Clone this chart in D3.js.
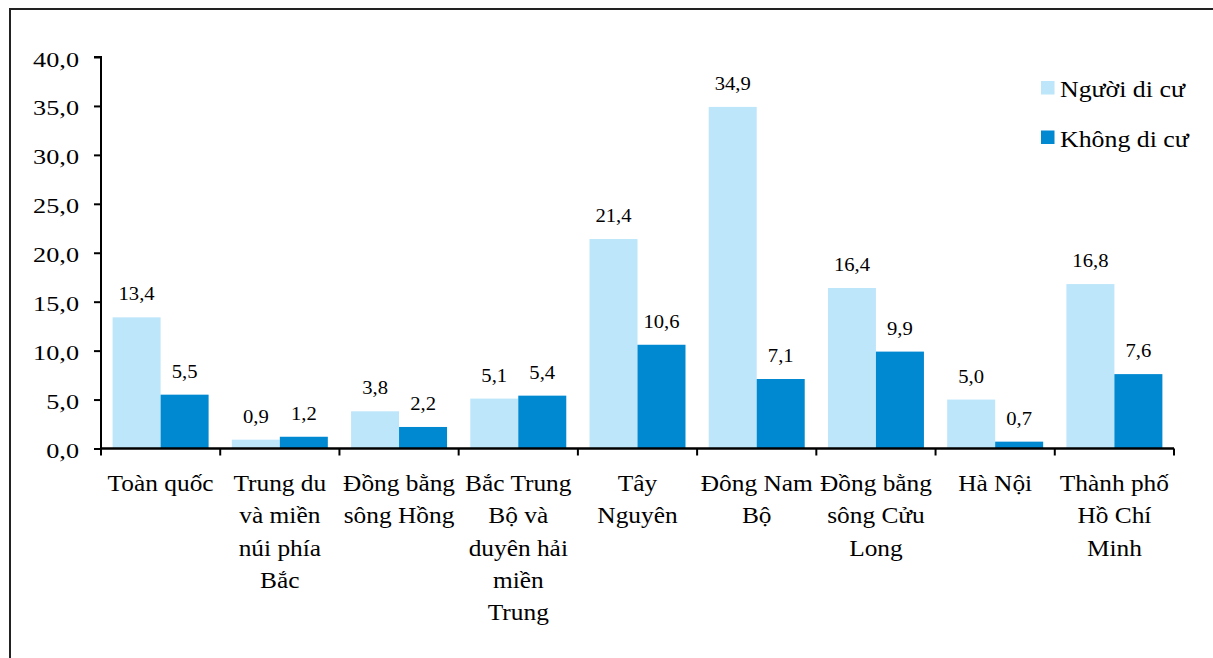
<!DOCTYPE html>
<html>
<head>
<meta charset="utf-8">
<script src="https://cdn.jsdelivr.net/npm/d3@7"></script>
<style>
  html, body { margin: 0; padding: 0; background: #fff; }
</style>
</head>
<body>
<svg id="chart" width="1213" height="658" font-family="Liberation Serif"></svg>
<script>
// Regions (label lines as printed under each group)
const categories = [
  ["Toàn quốc"],
  ["Trung du", "và miền", "núi phía", "Bắc"],
  ["Đồng bằng", "sông Hồng"],
  ["Bắc Trung", "Bộ và", "duyên hải", "miền", "Trung"],
  ["Tây", "Nguyên"],
  ["Đông Nam", "Bộ"],
  ["Đồng bằng", "sông Cửu", "Long"],
  ["Hà Nội"],
  ["Thành phố", "Hồ Chí", "Minh"]
];
const seriesNames = ["Người di cư", "Không di cư"];
const migrant = [13.4, 0.9, 3.8, 5.1, 21.4, 34.9, 16.4, 5.0, 16.8];
const nonMigrant = [5.5, 1.2, 2.2, 5.4, 10.6, 7.1, 9.9, 0.7, 7.6];
const yTicks = [0, 5, 10, 15, 20, 25, 30, 35, 40];
const colors = ["#bde6fa", "#0088d1"];

const FONT = "'Liberation Serif', 'Times New Roman', serif";
const fmt = v => v.toFixed(1).replace(".", ",");

const svg = d3.select("#chart");

// outer frame
svg.append("rect")
  .attr("x", 10).attr("y", 9)
  .attr("width", 1240).attr("height", 700)
  .attr("fill", "none").attr("stroke", "#222").attr("stroke-width", 2);

const plotL = 101, plotR = 1174, plotT = 57, plotB = 448.5;
const keys = categories.map((c, i) => i);

const x = d3.scaleBand().domain(keys).range([plotL, plotR]).paddingInner(0).paddingOuter(0);
const xs = d3.scaleBand().domain([0, 1]).range([0, x.bandwidth()]).paddingOuter(0.242).paddingInner(0);
const y = d3.scaleLinear().domain([0, 40]).range([plotB, plotT]);

const data = keys.map(i => [migrant[i], nonMigrant[i]]);

const groups = svg.append("g").selectAll("g")
  .data(data).join("g")
  .attr("transform", (d, i) => `translate(${x(i)},0)`);

groups.selectAll("rect")
  .data(d => d.map((v, s) => ({ v, s })))
  .join("rect")
  .attr("x", d => xs(d.s))
  .attr("width", xs.bandwidth())
  .attr("y", d => y(d.v))
  .attr("height", d => y(0) - y(d.v))
  .attr("fill", d => colors[d.s]);

// value labels
groups.selectAll("text.val")
  .data(d => d.map((v, s) => ({ v, s })))
  .join("text")
  .attr("class", "val")
  .attr("transform", d => `translate(${xs(d.s) + xs.bandwidth() / 2},${y(d.v) - 17}) scale(1.06,1)`)
  .attr("text-anchor", "middle")
  .style("font-family", FONT)
  .style("font-size", "19.5px")
  .attr("fill", "#000")
  .text(d => fmt(d.v));

// y axis
const yAxis = svg.append("g")
  .attr("transform", `translate(${plotL},0)`)
  .call(d3.axisLeft(y).tickValues(yTicks).tickSize(7).tickPadding(8).tickFormat(fmt));
yAxis.attr("font-family", null).attr("font-size", null);
yAxis.select(".domain").attr("stroke", "#000").attr("stroke-width", 2).attr("d", `M-7,${plotT}H0V${plotB}`);
yAxis.selectAll(".tick line").attr("stroke", "#000").attr("stroke-width", 2);
yAxis.selectAll(".tick text")
  .attr("x", 0)
  .attr("dy", "0.42em")
  .attr("transform", "translate(-22,0) scale(1.22,1)")
  .style("font-family", FONT)
  .style("font-size", "21.5px")
  .attr("fill", "#000");

// x axis: baseline with boundary ticks
const xAxisG = svg.append("g");
xAxisG.append("line")
  .attr("x1", plotL).attr("x2", plotR)
  .attr("y1", plotB).attr("y2", plotB)
  .attr("stroke", "#000").attr("stroke-width", 2.5);
const boundaries = keys.map(i => x(i)).concat([plotR]);
xAxisG.selectAll("line.tk")
  .data(boundaries).join("line")
  .attr("class", "tk")
  .attr("x1", d => d).attr("x2", d => d)
  .attr("y1", plotB).attr("y2", plotB + 7)
  .attr("stroke", "#000").attr("stroke-width", 2);

// category labels
const labels = svg.append("g").selectAll("text")
  .data(categories).join("text")
  .attr("transform", (d, i) => `translate(${x(i) + x.bandwidth() / 2},0) scale(1.08,1)`)
  .attr("text-anchor", "middle")
  .style("font-family", FONT)
  .style("font-size", "23.5px")
  .attr("fill", "#000");
labels.each(function (lines) {
  const t = d3.select(this);
  lines.forEach((ln, k) => {
    t.append("tspan")
      .attr("x", 0)
      .attr("y", 491 + k * 32.3)
      .text(ln);
  });
});

// legend
const legend = svg.append("g").selectAll("g")
  .data(seriesNames).join("g")
  .attr("transform", (d, i) => `translate(1041,${81 + i * 49.5})`);
legend.append("rect")
  .attr("width", 13.5).attr("height", 13.5)
  .attr("fill", (d, i) => colors[i]);
legend.append("text")
  .attr("transform", "translate(19,16) scale(1.1,1)")
  .style("font-family", FONT)
  .style("font-size", "23.5px")
  .attr("fill", "#000")
  .text(d => d);
</script>
</body>
</html>
